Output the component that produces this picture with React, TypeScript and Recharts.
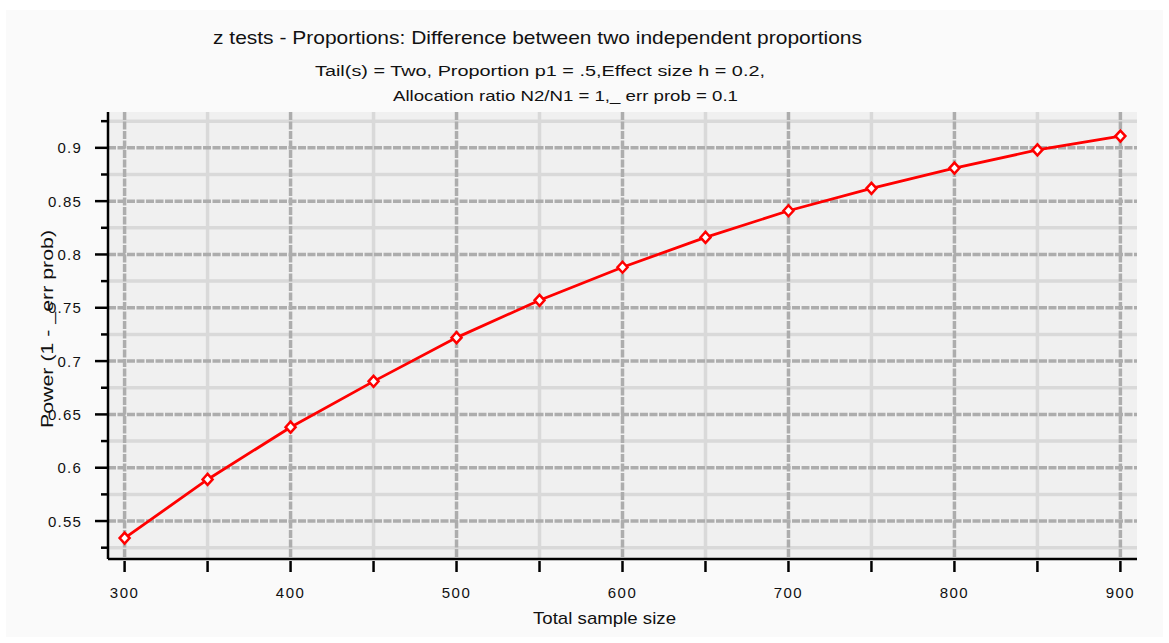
import React from "react";
import { LineChart, Line, XAxis, YAxis, CartesianGrid } from "recharts";

const sampleSizes = [300, 350, 400, 450, 500, 550, 600, 650, 700, 750, 800, 850, 900];
const power = [0.534, 0.589, 0.638, 0.681, 0.722, 0.757, 0.788, 0.816, 0.841, 0.862, 0.881, 0.898, 0.911];

const xTicks = [300, 350, 400, 450, 500, 550, 600, 650, 700, 750, 800, 850, 900];
const xMajor = [300, 400, 500, 600, 700, 800, 900];
const xMinor = [350, 450, 550, 650, 750, 850];
const yTicks = [0.525, 0.55, 0.575, 0.6, 0.625, 0.65, 0.675, 0.7, 0.725, 0.75, 0.775, 0.8, 0.825, 0.85, 0.875, 0.9, 0.925];
const yMajor = [0.55, 0.6, 0.65, 0.7, 0.75, 0.8, 0.85, 0.9];
const yMinor = [0.525, 0.575, 0.625, 0.675, 0.725, 0.775, 0.825, 0.875, 0.925];

const TITLE = "z tests - Proportions: Difference between two independent proportions";
const SUB1 = "Tail(s) = Two, Proportion p1 = .5,Effect size h = 0.2,";
const SUB2 = "Allocation ratio N2/N1 = 1,_ err prob = 0.1";
const X_LABEL = "Total sample size";
const Y_LABEL = "Power (1 - _err prob)";

const data = sampleSizes.map((n, i) => ({ n, power: power[i] }));

const FONT = "'Liberation Sans', Arial, sans-serif";

function isMajorY(v: number) {
  return yMajor.some((m) => Math.abs(m - v) < 1e-6);
}

function YTick(props: any) {
  const { x, y, payload } = props;
  const major = isMajorY(payload.value);
  return (
    <g>
      <line x1={x - (major ? 13 : 7)} x2={x} y1={y} y2={y} stroke="#000" strokeWidth={2.5} />
      {major && (
        <text x={x - 26} y={y + 5.5} textAnchor="end" fontSize={15} letterSpacing={1.2} fill="#111" fontFamily={FONT}>
          {String(payload.value)}
        </text>
      )}
    </g>
  );
}

function XTick(props: any) {
  const { x, y, payload } = props;
  const major = xMajor.includes(payload.value);
  return (
    <g>
      <line x1={x} x2={x} y1={y + 2} y2={y + 13} stroke="#000" strokeWidth={2.5} />
      {major && (
        <text x={x} y={y + 39} textAnchor="middle" fontSize={15} letterSpacing={1.5} fill="#111" fontFamily={FONT}>
          {String(payload.value)}
        </text>
      )}
    </g>
  );
}

function Diamond(props: any) {
  const { cx, cy } = props;
  if (cx == null || cy == null) return null;
  return (
    <path
      d={`M${cx},${cy - 5.5} L${cx + 5},${cy} L${cx},${cy + 5.5} L${cx - 5},${cy} Z`}
      fill="#fff"
      stroke="#ff0000"
      strokeWidth={2.5}
    />
  );
}

export default function App() {
  return (
    <div style={{ position: "fixed", left: 0, top: 0, width: 1169, height: 643, background: "#fff" }}>
      <div style={{ position: "absolute", left: 6, top: 10, width: 1157, height: 627, background: "#fafafa" }} />
      <div style={{ position: "absolute", left: 0, top: 0 }}>
        <LineChart width={1169} height={643} data={data} margin={{ top: 112, right: 32, bottom: 44, left: 48 }}>
          <CartesianGrid
            fill="#f0f0f0"
            stroke="#d9d9d9"
            strokeWidth={3.5}
            horizontalValues={yMinor}
            verticalValues={xMinor}
          />
          <CartesianGrid
            stroke="#adadad"
            strokeWidth={3.5}
            strokeDasharray="8 1.5"
            horizontalValues={yMajor}
            verticalValues={xMajor}
          />
          <XAxis
            dataKey="n"
            type="number"
            domain={[290, 910]}
            ticks={xTicks}
            interval={0}
            height={40}
            tickSize={0}
            tickMargin={0}
            tick={<XTick />}
            axisLine={{ stroke: "#000", strokeWidth: 2.5 }}
            tickLine={false}
          />
          <YAxis
            type="number"
            domain={[0.5144, 0.9336]}
            ticks={yTicks}
            interval={0}
            width={60}
            tickSize={0}
            tickMargin={0}
            tick={<YTick />}
            axisLine={{ stroke: "#000", strokeWidth: 2.5 }}
            tickLine={false}
            allowDataOverflow
          />
          <Line
            dataKey="power"
            type="linear"
            stroke="#ff0000"
            strokeWidth={2.8}
            dot={<Diamond />}
            activeDot={false}
            isAnimationActive={false}
          />
        </LineChart>
      </div>
      <svg
        width={1169}
        height={643}
        style={{ position: "absolute", left: 0, top: 0, pointerEvents: "none" }}
        fontFamily={FONT}
      >
        <text x={213} y={44} fontSize={19} fill="#111" textLength={649} lengthAdjust="spacingAndGlyphs">
          {TITLE}
        </text>
        <text x={315} y={75.5} fontSize={15.5} fill="#111" textLength={450} lengthAdjust="spacingAndGlyphs">
          {SUB1}
        </text>
        <text x={393} y={100.5} fontSize={15.5} fill="#111" textLength={345} lengthAdjust="spacingAndGlyphs">
          {SUB2}
        </text>
        <text x={533} y={624} fontSize={17} fill="#111" textLength={143} lengthAdjust="spacingAndGlyphs">
          {X_LABEL}
        </text>
        <text
          x={0}
          y={0}
          fontSize={16.5}
          fill="#111"
          textLength={198}
          lengthAdjust="spacingAndGlyphs"
          transform="translate(53,428) rotate(-90)"
        >
          {Y_LABEL}
        </text>
      </svg>
    </div>
  );
}
